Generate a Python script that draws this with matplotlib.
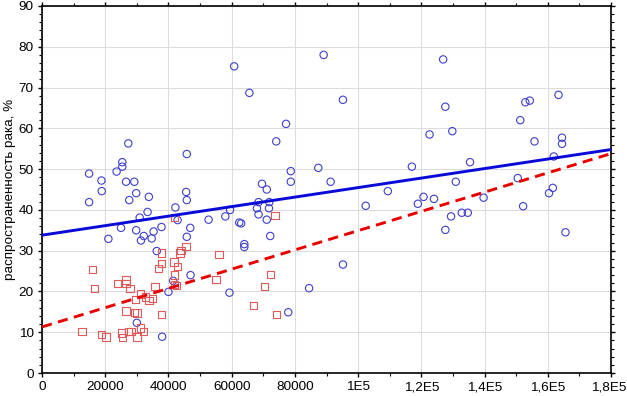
import matplotlib
matplotlib.use("Agg")
import matplotlib.pyplot as plt
from matplotlib.ticker import MultipleLocator, FixedLocator, FixedFormatter

plt.rcParams['font.family'] = ['Liberation Sans', 'DejaVu Sans']

# Blue circles (income-like x, prevalence %)
blue_x = [14900, 23600, 18800, 26600, 29200, 18900, 29800, 33800, 45600, 27600,
          45800, 14900, 42200, 33400, 30900, 42900, 52700, 58000, 59500, 62400,
          25000, 46900, 29800, 35300, 37800, 21000, 31300, 32200, 34700, 45800,
          36300, 47000, 40000, 59300, 30000, 38000, 41500, 27300, 45800, 25400,
          25400, 60800, 89100, 65600, 95200, 77200, 74100, 122600, 78700, 87400,
          78700, 69600, 71100, 91300, 117000, 109400, 120700, 68500, 71900, 68000,
          71800, 68500, 71100, 63000, 72200, 64000, 64000, 102400, 118900, 95200,
          84500, 77900, 126900, 127600, 129800, 151300, 135400, 130900, 124000, 139700,
          150500, 129400, 132800, 134700, 152900, 154300, 163400, 155800, 164500, 164500,
          161900, 160400, 161600, 127600, 152200, 165600]
blue_y = [48.9, 49.4, 47.2, 46.9, 46.9, 44.6, 44.1, 43.2, 44.4, 42.4,
          42.4, 41.9, 40.6, 39.5, 38.1, 37.5, 37.6, 38.4, 40.0, 36.9,
          35.6, 35.6, 35.0, 34.7, 35.8, 32.9, 32.5, 33.6, 33.0, 33.4,
          29.9, 24.0, 19.9, 19.7, 12.3, 8.9, 22.6, 56.3, 53.7, 51.7,
          50.6, 75.2, 78.0, 68.7, 67.0, 61.1, 56.8, 58.5, 49.5, 50.3,
          46.9, 46.4, 45.0, 46.9, 50.6, 44.6, 43.2, 41.9, 41.9, 40.4,
          40.4, 38.9, 37.6, 36.7, 33.6, 31.6, 30.9, 41.0, 41.5, 26.6,
          20.8, 14.9, 76.9, 65.3, 59.3, 62.0, 51.7, 46.9, 42.7, 43.0,
          47.8, 38.4, 39.3, 39.3, 66.4, 66.8, 68.2, 56.8, 57.7, 56.2,
          53.1, 44.1, 45.4, 35.1, 40.9, 34.5]

# Red squares
red_x = [15900, 16600, 12600, 18800, 20200, 23900, 26600, 26600, 27800, 31100,
         29500, 32700, 33900, 35000, 35700, 26600, 29200, 30000, 37800, 25100,
         25500, 27400, 28200, 30000, 31100, 32100, 37900, 37800, 36800, 43700,
         44000, 45500, 41800, 42800, 41900, 41900, 42600, 41900, 56000, 55000,
         73700, 72200, 70300, 66900, 74100]
red_y = [25.4, 20.8, 10.1, 9.5, 8.8, 22.0, 22.8, 22.0, 20.8, 19.4,
         18.1, 18.6, 17.8, 18.3, 21.2, 15.2, 14.8, 14.7, 14.4, 9.8,
         8.7, 10.1, 10.1, 8.8, 11.0, 10.1, 29.4, 26.8, 25.6, 29.4,
         30.0, 31.1, 27.2, 26.1, 24.0, 21.7, 21.5, 38.2, 29.1, 23.0,
         38.7, 24.2, 21.2, 16.6, 14.4]

# Regression lines (endpoints)
fit_x = [0, 180000]
blue_fit = [33.8, 54.8]
red_fit = [11.3, 53.8]

x_ticks = [0, 20000, 40000, 60000, 80000, 100000, 120000, 140000, 160000, 180000]
x_labels = ["0", "20000", "40000", "60000", "80000", "1E5", "1,2E5", "1,4E5", "1,6E5", "1,8E5"]
y_ticks = [0, 10, 20, 30, 40, 50, 60, 70, 80, 90]
y_label = "распространенность рака, %"

fig = plt.figure(figsize=(6.27, 3.96), dpi=100)
ax = fig.add_axes([42/627, 1 - 373/396, (611-42)/627, (373-6)/396])

ax.grid(True, color='#dcdcdc', linewidth=0.8, zorder=0)
ax.set_axisbelow(True)

ax.scatter(blue_x, blue_y, s=28, facecolors='none', edgecolors='#3f3fcc',
           linewidths=0.8, marker='o', zorder=3)
ax.scatter(red_x, red_y, s=28, facecolors='none', edgecolors='#e05a5a',
           linewidths=0.8, marker='s', zorder=3)

ax.plot(fit_x, blue_fit, color='#0a0ad8', linewidth=2.1, zorder=4)
ax.plot(fit_x, red_fit, color='#e80000', linewidth=2.1, linestyle=(0, (3.5, 2.2)), zorder=4)

ax.set_xlim(0, 180000)
ax.set_ylim(0, 90)
ax.xaxis.set_major_locator(FixedLocator(x_ticks))
ax.xaxis.set_major_formatter(FixedFormatter(x_labels))
ax.yaxis.set_major_locator(FixedLocator(y_ticks))
ax.xaxis.set_minor_locator(MultipleLocator(10000))
ax.yaxis.set_minor_locator(MultipleLocator(2))

for s in ax.spines.values():
    s.set_linewidth(1.2)
    s.set_color('black')

ax.tick_params(axis='both', which='major', direction='out', length=3, width=1,
               labelsize=9.7, pad=3, top=True, right=True)
ax.tick_params(axis='both', which='minor', direction='out', length=2, width=0.8,
               top=True, right=True)

ax.set_ylabel(y_label, fontsize=9.7, labelpad=2)

fig.canvas.draw()
last = ax.get_xticklabels()[-1]
last.set_horizontalalignment('right')
import matplotlib.transforms as mtransforms
last.set_transform(last.get_transform() + mtransforms.ScaledTranslation(0.16, 0, fig.dpi_scale_trans))

fig.savefig("out.png", dpi=100)
